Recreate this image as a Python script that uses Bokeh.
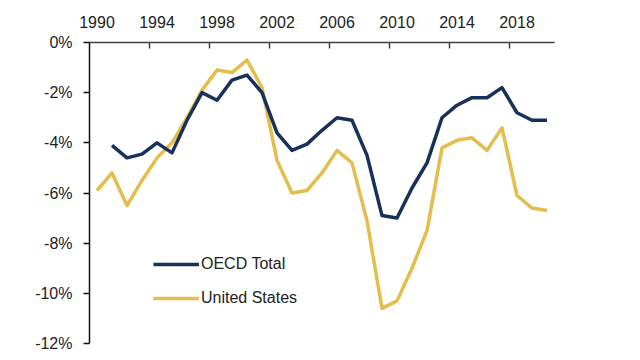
from bokeh.plotting import figure
from bokeh.models import FixedTicker, PrintfTickFormatter, Range1d, LinearAxis, Legend, LegendItem, ColumnDataSource
from bokeh.embed import file_html
from bokeh.resources import INLINE

years = list(range(1990, 2021))
oecd = [None, -4.1, -4.6, -4.45, -4.0, -4.4, -3.1, -2.0, -2.3, -1.5, -1.3,
        -2.0, -3.6, -4.3, -4.05, -3.5, -3.0, -3.1, -4.5, -6.9, -7.0,
        -5.8, -4.8, -3.0, -2.5, -2.2, -2.2, -1.8, -2.8, -3.1, -3.1]
us = [-5.9, -5.2, -6.5, -5.5, -4.6, -4.0, -3.0, -1.9, -1.1, -1.2, -0.7,
      -1.8, -4.7, -6.0, -5.9, -5.2, -4.3, -4.8, -7.1, -10.6, -10.3,
      -9.0, -7.5, -4.2, -3.9, -3.8, -4.3, -3.4, -6.1, -6.6, -6.7]
x_tick_labels = [1990, 1994, 1998, 2002, 2006, 2010, 2014, 2018]
y_ticks = [0, -2, -4, -6, -8, -10, -12]
series_names = ["OECD Total", "United States"]
colors = ["#17315a", "#e4bd4c"]

FONT = "Liberation Sans"

p = figure(output_backend="svg", toolbar_location=None,
           frame_width=465, frame_height=301,
           min_border_left=89, min_border_right=70, min_border_top=42, min_border_bottom=9,
           x_range=Range1d(years[0] - 0.5, years[-1] + 0.5),
           y_range=Range1d(-12, 0),
           x_axis_location=None, y_axis_location=None)
p.outline_line_color = None
p.xgrid.visible = False
p.ygrid.visible = False
p.background_fill_color = "white"
p.border_fill_color = "white"

src = ColumnDataSource(dict(year=years,
                            oecd=[float("nan") if v is None else v for v in oecd],
                            us=us))
r_us = p.line("year", "us", source=src, line_color=colors[1], line_width=3.5, line_join="round")
r_oecd = p.line("year", "oecd", source=src, line_color=colors[0], line_width=3.5, line_join="round")

xaxis = LinearAxis(
    ticker=FixedTicker(ticks=x_tick_labels, minor_ticks=[t - 0.5 for t in x_tick_labels[1:]]),
    major_tick_in=0, major_tick_out=0,
    minor_tick_in=6, minor_tick_out=0,
    minor_tick_line_color="#404040", minor_tick_line_width=1.5,
    axis_line_color="#404040", axis_line_width=1.5,
    major_label_standoff=15,
    major_label_text_font=FONT, major_label_text_font_size="16px",
    major_label_text_color="#222222")
p.add_layout(xaxis, "above")

yaxis = LinearAxis(
    ticker=FixedTicker(ticks=y_ticks, minor_ticks=[]),
    formatter=PrintfTickFormatter(format="%d%%"),
    major_tick_in=0, major_tick_out=6,
    major_tick_line_color="#111111", major_tick_line_width=1.5,
    axis_line_color="#111111", axis_line_width=1.5,
    major_label_standoff=11,
    major_label_text_font=FONT, major_label_text_font_size="16px",
    major_label_text_color="#222222")
p.add_layout(yaxis, "left")

legend = Legend(items=[LegendItem(label=series_names[0], renderers=[r_oecd]),
                       LegendItem(label=series_names[1], renderers=[r_us])],
                location=(64, 28), orientation="vertical",
                glyph_width=46, glyph_height=34, label_height=34, label_standoff=2,
                spacing=0, padding=0, margin=0,
                border_line_color=None, background_fill_alpha=0,
                label_text_font=FONT, label_text_font_size="16px",
                label_text_color="#222222")
p.add_layout(legend, "center")

open("out.html", "w").write(file_html(p, INLINE))
